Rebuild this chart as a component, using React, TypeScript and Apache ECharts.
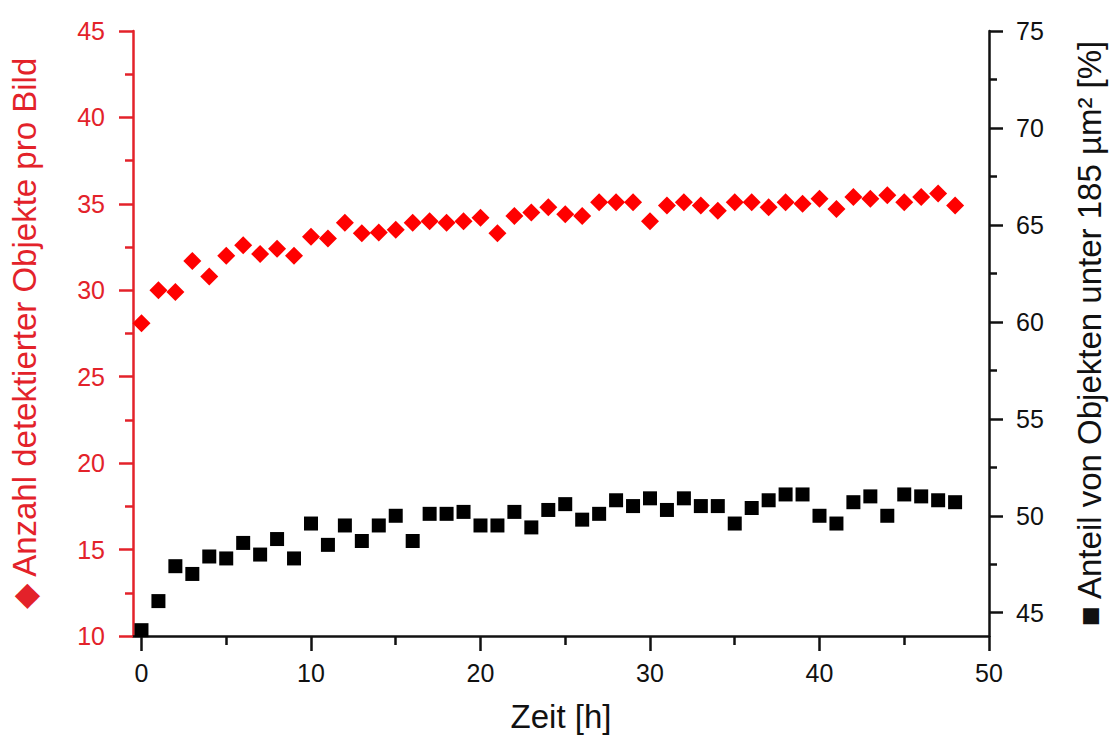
import React, { useEffect, useRef } from "react";
import * as echarts from "echarts";

const hours = [0,1,2,3,4,5,6,7,8,9,10,11,12,13,14,15,16,17,18,19,20,21,22,23,24,25,26,27,28,29,30,31,32,33,34,35,36,37,38,39,40,41,42,43,44,45,46,47,48];
const objectCount = [28.1,30.0,29.9,31.7,30.8,32.0,32.6,32.1,32.4,32.0,33.1,33.0,33.9,33.3,33.35,33.5,33.9,34.0,33.9,34.0,34.2,33.3,34.3,34.5,34.8,34.4,34.3,35.1,35.1,35.1,34.0,34.9,35.1,34.9,34.6,35.1,35.1,34.8,35.1,35.0,35.3,34.7,35.4,35.3,35.5,35.1,35.4,35.6,34.9];
const smallShare = [44.1,45.6,47.4,47.0,47.9,47.8,48.6,48.0,48.8,47.8,49.6,48.5,49.5,48.7,49.5,50.0,48.7,50.1,50.1,50.2,49.5,49.5,50.2,49.4,50.3,50.6,49.8,50.1,50.8,50.5,50.9,50.3,50.9,50.5,50.5,49.6,50.4,50.8,51.1,51.1,50.0,49.6,50.7,51.0,50.0,51.1,51.0,50.8,50.7];
const xMajor = [0,10,20,30,40,50];
const xMinor = [5,15,25,35,45];
const rightMajor = [45,50,55,60,65,70,75];
const rightMinor = [47.5,52.5,57.5,62.5,67.5,72.5];

const RED = "#e3222a";
const INK = "#111111";
const FONT = "Liberation Sans, Arial, sans-serif";

export default function App() {
  const ref = useRef<HTMLDivElement>(null);
  useEffect(() => {
    if (!ref.current) return;
    const chart = echarts.init(ref.current, null, { renderer: "svg" });
    const xMin = -0.5;
    const xMax = 50;
    const rMin = 43.8;
    const rMax = 75;
    const lw = 2.5;
    chart.setOption({
      animation: false,
      backgroundColor: "#ffffff",
      textStyle: { fontFamily: FONT },
      grid: { left: 133, right: 124, top: 31, bottom: 101, containLabel: false },
      xAxis: [
        {
          type: "value", position: "bottom", min: xMin, max: xMax,
          name: "Zeit [h]", nameLocation: "middle", nameGap: 64,
          nameTextStyle: { fontSize: 33, color: INK, fontFamily: FONT },
          axisLine: { show: true, onZero: false, lineStyle: { color: INK, width: lw } },
          axisTick: { show: true, inside: false, length: 15, customValues: xMajor, lineStyle: { color: INK, width: lw } },
          axisLabel: { show: true, customValues: xMajor, margin: 24, fontSize: 25, color: INK, fontFamily: FONT },
          splitLine: { show: false },
        },
        {
          type: "value", position: "bottom", min: xMin, max: xMax,
          axisLine: { show: false, onZero: false },
          axisTick: { show: true, inside: false, length: 9, customValues: xMinor, lineStyle: { color: INK, width: lw } },
          axisLabel: { show: false },
          splitLine: { show: false },
        },
      ],
      yAxis: [
        {
          type: "value", position: "left", min: 10, max: 45, interval: 5,
          name: "◆ Anzahl detektierter Objekte pro Bild", nameLocation: "middle", nameRotate: 90, nameGap: 92,
          nameTextStyle: { fontSize: 33, color: RED, fontFamily: FONT },
          axisLine: { show: true, onZero: false, lineStyle: { color: RED, width: lw } },
          axisTick: { show: true, inside: false, length: 14, lineStyle: { color: RED, width: lw } },
          minorTick: { show: true, splitNumber: 2, length: 8, lineStyle: { color: RED, width: lw } },
          axisLabel: { margin: 28, fontSize: 25, color: RED, fontFamily: FONT },
          splitLine: { show: false },
        },
        {
          type: "value", position: "right", min: rMin, max: rMax,
          name: "■ Anteil von Objekten unter 185 µm² [%]", nameLocation: "middle", nameRotate: 90, nameGap: 84,
          nameTextStyle: { fontSize: 33, color: INK, fontFamily: FONT },
          axisLine: { show: true, onZero: false, lineStyle: { color: INK, width: lw } },
          axisTick: { show: true, inside: false, length: 14, customValues: rightMajor, lineStyle: { color: INK, width: lw } },
          axisLabel: { show: true, customValues: rightMajor, margin: 27, fontSize: 25, color: INK, fontFamily: FONT },
          splitLine: { show: false },
        },
        {
          type: "value", position: "right", min: rMin, max: rMax,
          axisLine: { show: false, onZero: false },
          axisTick: { show: true, inside: false, length: 8, customValues: rightMinor, lineStyle: { color: INK, width: lw } },
          axisLabel: { show: false },
          splitLine: { show: false },
        },
      ],
      series: [
        {
          type: "scatter", xAxisIndex: 0, yAxisIndex: 0,
          symbol: "diamond", symbolSize: [18, 18],
          itemStyle: { color: "#ff0000", opacity: 1 },
          data: hours.map((h, i) => [h, objectCount[i]]),
          z: 3,
        },
        {
          type: "scatter", xAxisIndex: 0, yAxisIndex: 1,
          symbol: "rect", symbolSize: [14, 14],
          itemStyle: { color: "#000000", opacity: 1 },
          data: hours.map((h, i) => [h, smallShare[i]]),
          z: 4,
        },
      ],
    });
    return () => chart.dispose();
  }, []);
  return <div ref={ref} style={{ width: 1114, height: 738, position: "absolute", left: 0, top: 0 }} />;
}
